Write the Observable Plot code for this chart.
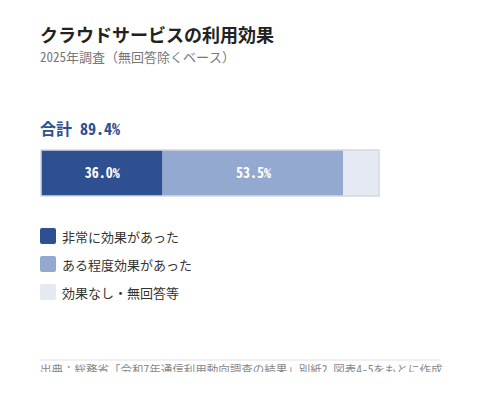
<!DOCTYPE html>
<html>
<head>
<meta charset="utf-8">
<script src="https://cdn.jsdelivr.net/npm/d3@7"></script>
<script src="https://cdn.jsdelivr.net/npm/@observablehq/plot@0.6"></script>
<style>
  html, body { margin: 0; padding: 0; background: #fff; }
  body { font-family: "Noto Sans Mono CJK JP", "Noto Sans CJK JP", monospace; }
  #wrap { position: relative; width: 480px; height: 372px; overflow: hidden; background: #fff; }
  .abs { position: absolute; left: 40px; white-space: nowrap; }
  #title { top: 22px; font-size: 18px; line-height: 24px; font-weight: 700; color: #222; }
  #subtitle { top: 49px; font-size: 13px; line-height: 16px; color: #777; }
  #total { top: 118px; font-size: 16px; line-height: 20px; font-weight: 700; color: #2e5090; }
  #chart { top: 149px; }
  #legend { top: 228px; }
  .row { display: flex; align-items: center; height: 16px; margin-bottom: 12px; font-size: 13px; color: #333; }
  .sw { width: 16px; height: 16px; border-radius: 2px; margin-right: 6px; }
  #sep { top: 359px; width: 400px; height: 2px; background: #eef0f5; }
  #caption { top: 362px; font-size: 11.5px; line-height: 14px; color: #888; }
</style>
</head>
<body>
<div id="wrap">
  <div id="title" class="abs"></div>
  <div id="subtitle" class="abs"></div>
  <div id="total" class="abs"></div>
  <div id="chart" class="abs"></div>
  <div id="legend" class="abs"></div>
  <div id="sep" class="abs"></div>
  <div id="caption" class="abs"></div>
</div>
<script>
const titleText = "クラウドサービスの利用効果";
const subtitleText = "2025年調査（無回答除くベース）";
const totalLabel = "合計";
const totalValue = 89.4;
const captionText = "出典：総務省「令和7年通信利用動向調査の結果」別紙2 図表4-5をもとに作成";

const categories = ["非常に効果があった", "ある程度効果があった", "効果なし・無回答等"];
const values = [36.0, 53.5, 10.6];
const showLabel = [true, true, false];
const colors = ["#2e5090", "#94a9cf", "#e5e9f2"];

document.getElementById("title").textContent = titleText;
document.getElementById("subtitle").textContent = subtitleText;
document.getElementById("total").textContent = `${totalLabel} ${totalValue.toFixed(1)}%`;
document.getElementById("caption").textContent = captionText;

const data = categories.map((c, i) => ({ category: c, value: values[i], show: showLabel[i], row: "all" }));
const sum = d3.sum(values);

const chart = Plot.plot({
  width: 400,
  height: 48,
  marginTop: 1,
  marginBottom: 1,
  marginLeft: 1,
  marginRight: 61,
  x: { domain: [0, sum], axis: null },
  y: { domain: ["all"], axis: null, padding: 0 },
  color: { domain: categories, range: colors },
  style: { fontFamily: '"Noto Sans Mono CJK JP", "Noto Sans CJK JP", monospace' },
  marks: [
    Plot.barX(data, Plot.stackX({ x: "value", y: "row", fill: "category", order: null, inset: 0 })),
    Plot.rect([{ x1: 0, x2: sum, row: "all" }], { x1: "x1", x2: "x2", y: "row", fill: "none", stroke: "#d3d8e3", strokeWidth: 1.5 }),
    Plot.text(data.filter(d => d.show), Plot.stackX({
      x: "value", y: "row", order: null,
      text: d => `${d.value.toFixed(1)}%`,
      fill: "white", fontSize: 14, fontWeight: "bold"
    }))
  ]
});
document.getElementById("chart").appendChild(chart);

const legend = document.getElementById("legend");
categories.forEach((c, i) => {
  const row = document.createElement("div");
  row.className = "row";
  const sw = document.createElement("div");
  sw.className = "sw";
  sw.style.background = colors[i];
  const label = document.createElement("span");
  label.textContent = c;
  row.appendChild(sw);
  row.appendChild(label);
  legend.appendChild(row);
});
</script>
</body>
</html>
